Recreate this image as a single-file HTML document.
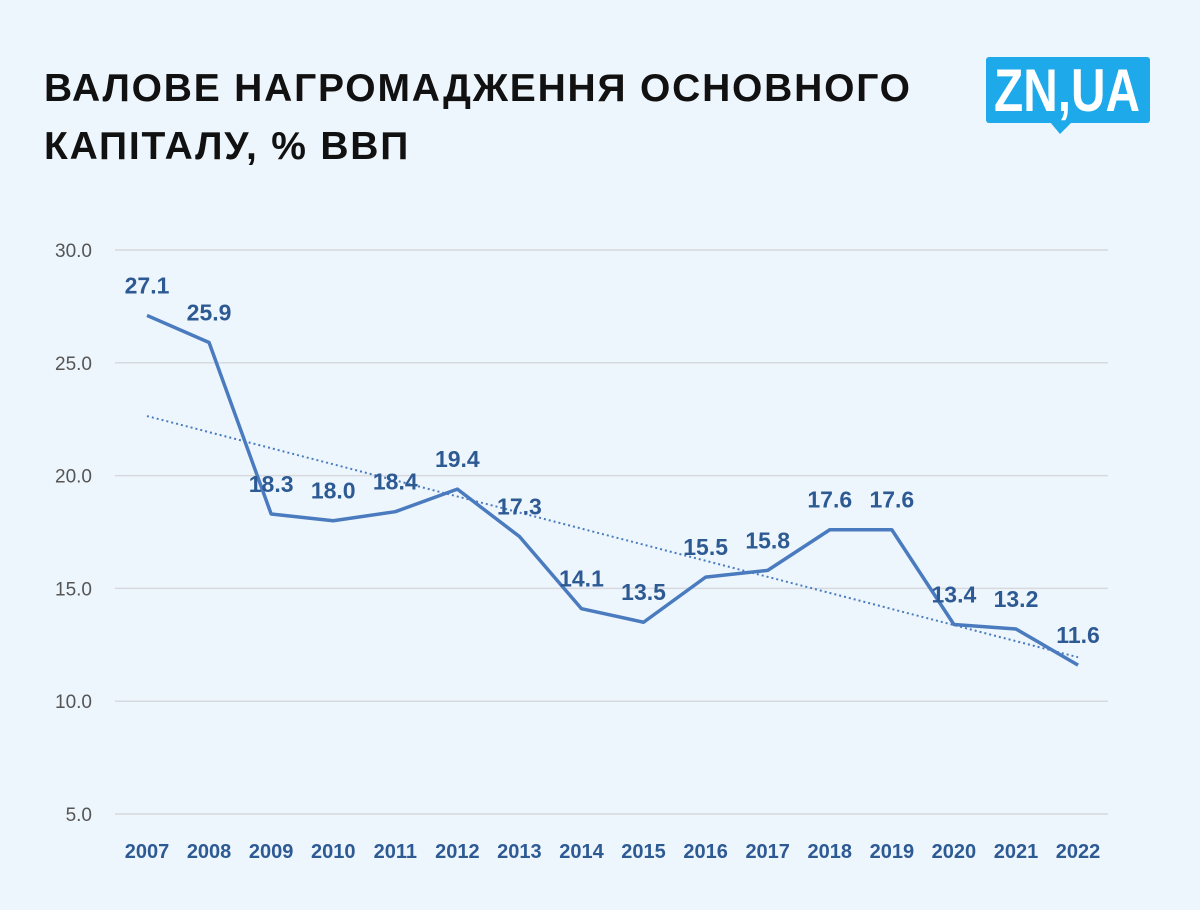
<!DOCTYPE html>
<html><head><meta charset="utf-8"><style>
body{margin:0;background:#eef6fd;width:1200px;height:910px;overflow:hidden;font-family:"Liberation Sans",sans-serif;}
#title{position:absolute;left:44px;top:60px;font-size:39px;font-weight:bold;line-height:58px;color:#111;letter-spacing:1.8px;}
</style></head><body>
<div id="title">ВАЛОВЕ НАГРОМАДЖЕННЯ ОСНОВНОГО<br>КАПІТАЛУ, % ВВП</div>
<svg width="1200" height="910" style="position:absolute;left:0;top:0">
<g>
<rect x="986" y="57" width="164" height="66" rx="3" fill="#1ea9ea"/>
<polygon points="1050,122 1072,122 1060,134" fill="#1ea9ea"/>
<text x="994" y="111" textLength="146" lengthAdjust="spacingAndGlyphs" font-size="60" font-weight="bold" fill="#fff">ZN,UA</text>
</g>
<g id="grid"></g><g id="trend"></g><g id="series"></g><g id="labels"></g>
</svg>
<script>
const years=["2007","2008","2009","2010","2011","2012","2013","2014","2015","2016","2017","2018","2019","2020","2021","2022"];
const values=[27.1,25.9,18.3,18.0,18.4,19.4,17.3,14.1,13.5,15.5,15.8,17.6,17.6,13.4,13.2,11.6];
const yTicks=[5,10,15,20,25,30];
const NS="http://www.w3.org/2000/svg";
const xS=i=>147+i*62.07;
const yS=v=>250+(30-v)*22.56;
function mk(t,a,p){const e=document.createElementNS(NS,t);for(const k in a)e.setAttribute(k,a[k]);p.appendChild(e);return e;}
const g=document.getElementById('grid');
yTicks.forEach(t=>{
 const l=mk('line',{x1:115,x2:1108,y1:yS(t),y2:yS(t),stroke:'#d6d9dd','stroke-width':1.5},g);
 
 
 const tx=mk('text',{x:92,y:yS(t)+7,'text-anchor':'end','font-size':19,fill:'#555'},g);
 tx.textContent=t.toFixed(1);
 
 
});
years.forEach((y,i)=>{
 const tx=mk('text',{x:xS(i),y:858,'text-anchor':'middle','font-size':20,'font-weight':'bold',fill:'#2e5a94'},g);
 tx.textContent=y;
 
 
});
const n=values.length;let sx=0,sy=0,sxy=0,sxx=0;
values.forEach((v,i)=>{sx+=i;sy+=v;sxy+=i*v;sxx+=i*i;});
const b=(n*sxy-sx*sy)/(n*sxx-sx*sx),a=(sy-b*sx)/n;
const tr=mk('line',{x1:xS(0),y1:yS(a),x2:xS(n-1),y2:yS(a+b*(n-1)),stroke:'#4a7bbf','stroke-width':2,'stroke-dasharray':'2 3'},document.getElementById('trend'));


const pl=mk('polyline',{points:values.map((v,i)=>xS(i)+','+yS(v)).join(' '),fill:'none',stroke:'#4a7bbf','stroke-width':3.5,'stroke-linejoin':'round'},document.getElementById('series'));


const lg=document.getElementById('labels');
values.forEach((v,i)=>{
 const tx=mk('text',{x:xS(i),y:yS(v)-22,'text-anchor':'middle','font-size':23,'font-weight':'bold',fill:'#2e5a94'},lg);
 tx.textContent=v.toFixed(1);
 
 
});
</script>
</body></html>
